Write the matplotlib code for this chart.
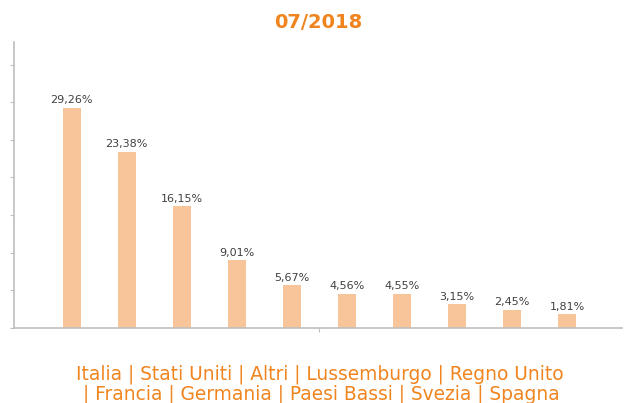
import matplotlib
matplotlib.use("Agg")
import matplotlib.pyplot as plt

categories = ["Italia", "Stati Uniti", "Altri", "Lussemburgo", "Regno Unito",
              "Francia", "Germania", "Paesi Bassi", "Svezia", "Spagna"]
values = [29.26, 23.38, 16.15, 9.01, 5.67, 4.56, 4.55, 3.15, 2.45, 1.81]
title = "07/2018"

orange = "#F0841E"
bar_color = "#F7C599"
axis_color = "#BFBFBF"

fig = plt.figure(figsize=(6.24, 4.03), dpi=100)
ax = fig.add_axes([14/624, (403-328)/403, (622-14)/624, (328-42)/403])

x = list(range(1, len(values) + 1))
ax.bar(x, values, width=0.33, color=bar_color, edgecolor="none")
for xi, v in zip(x, values):
    ax.text(xi, v + 0.35, f"{v:.2f}%".replace(".", ","), ha="center", va="bottom",
            fontsize=8, color="#404040")

ax.set_xlim(-0.05, 11)
ax.set_ylim(0, 38)
ax.set_yticks(range(0, 36, 5))
ax.set_yticklabels([])
ax.set_xticks([5.5])
ax.set_xticklabels([])
ax.tick_params(axis="both", direction="out", length=3, width=0.8, color=axis_color)
for s in ["top", "right"]:
    ax.spines[s].set_visible(False)
for s in ["left", "bottom"]:
    ax.spines[s].set_color(axis_color)
    ax.spines[s].set_linewidth(1.2)

fig.text(318.5/624, 1 - 23/403, title, ha="center", va="center", fontsize=14,
         fontweight="bold", color=orange)

line1 = " | ".join(categories[:5])
line2 = "| " + " | ".join(categories[5:])
fig.text(320/624, 1 - 374/403, line1, ha="center", va="center", fontsize=13.4, color=orange)
fig.text(321/624, 1 - 394/403, line2, ha="center", va="center", fontsize=13.4, color=orange)

fig.savefig("out.png", dpi=100)
